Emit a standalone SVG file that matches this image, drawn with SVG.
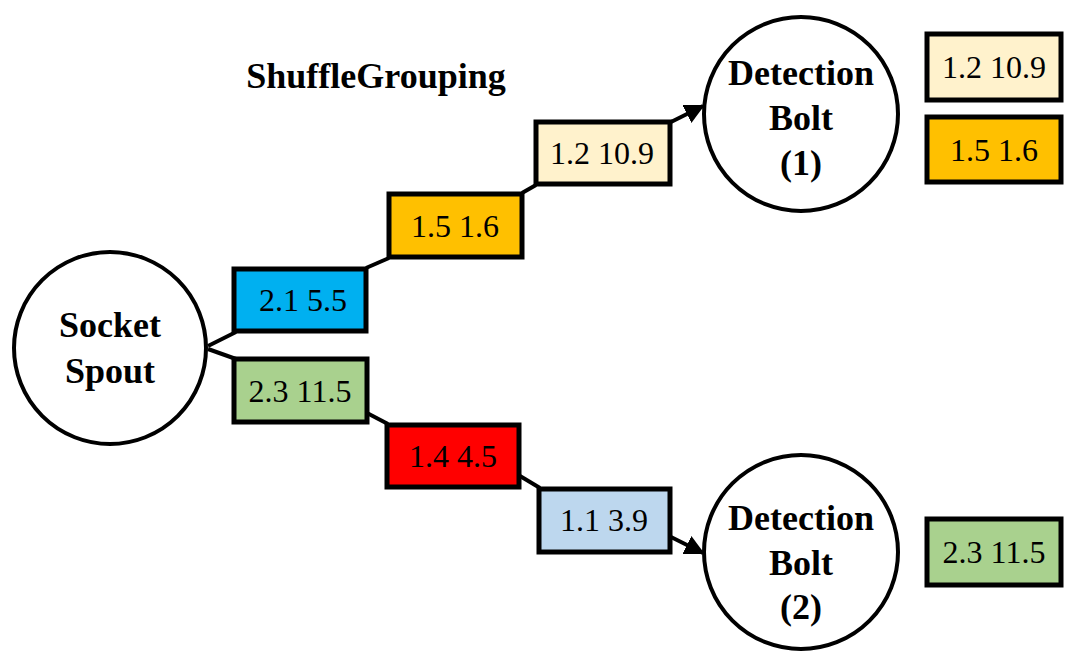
<svg xmlns="http://www.w3.org/2000/svg" width="1071" height="656" viewBox="0 0 1071 656">
<style>
.c{fill:#fff;stroke:#000;stroke-width:4}
.b{stroke:#000;stroke-width:5}
.t{font-family:'Liberation Serif','Times New Roman',serif;font-size:32px;fill:#000;text-anchor:middle}
.h{font-family:'Liberation Serif','Times New Roman',serif;font-size:36px;font-weight:bold;fill:#000;text-anchor:middle}
.l{stroke:#000;stroke-width:4;fill:none}
</style>
<defs>
<marker id="a" viewBox="0 0 10 10" refX="9" refY="5" markerWidth="5" markerHeight="5" orient="auto" markerUnits="strokeWidth">
<path d="M0,0 L10,5 L0,10 z" fill="#000"/>
</marker>
</defs>
<rect width="1071" height="656" fill="#fff"/>
<text x="376" y="88" class="h">ShuffleGrouping</text>
<g id="connectors">
<line class="l" x1="208" y1="346" x2="236" y2="332"/>
<line class="l" x1="208" y1="349" x2="236" y2="359"/>
<line class="l" x1="366" y1="268" x2="389" y2="258"/>
<line class="l" x1="522" y1="193" x2="536" y2="185"/>
<line class="l" x1="671" y1="122" x2="703" y2="106" marker-end="url(#a)"/>
<line class="l" x1="367" y1="413" x2="388" y2="424"/>
<line class="l" x1="520" y1="476" x2="540" y2="488"/>
<line class="l" x1="671" y1="537" x2="703" y2="553" marker-end="url(#a)"/>
</g>
<g id="socket-spout">
<circle class="c" cx="110" cy="348" r="96"/>
<text x="110" y="337" class="h">Socket</text>
<text x="110" y="383" class="h">Spout</text>
</g>
<g id="detection-bolt-1">
<circle class="c" cx="801" cy="114" r="97"/>
<text x="801" y="85" class="h">Detection</text>
<text x="801" y="130" class="h">Bolt</text>
<text x="801" y="175" class="h">(1)</text>
</g>
<g id="detection-bolt-2">
<circle class="c" cx="801" cy="552" r="97"/>
<text x="801" y="530" class="h">Detection</text>
<text x="801" y="575" class="h">Bolt</text>
<text x="801" y="619" class="h">(2)</text>
</g>
<g id="tuple-2-1"><rect class="b" x="234" y="269" width="132" height="62" fill="#00b0f0"/><text x="303" y="311" class="t">2.1 5.5</text></g>
<g id="tuple-2-3"><rect class="b" x="234" y="359" width="133" height="63" fill="#a9d18e"/><text x="300" y="402" class="t">2.3 11.5</text></g>
<g id="tuple-1-5"><rect class="b" x="389" y="194" width="133" height="63" fill="#ffc000"/><text x="455" y="237" class="t">1.5 1.6</text></g>
<g id="tuple-1-2"><rect class="b" x="536" y="122" width="134" height="62" fill="#fff2cc"/><text x="602" y="164" class="t">1.2 10.9</text></g>
<g id="tuple-1-4"><rect class="b" x="387" y="425" width="132" height="62" fill="#ff0000"/><text x="453" y="467" class="t">1.4 4.5</text></g>
<g id="tuple-1-1"><rect class="b" x="539" y="489" width="131" height="63" fill="#bdd7ee"/><text x="604" y="531" class="t">1.1 3.9</text></g>
<g id="out-1-2"><rect class="b" x="927" y="34" width="134" height="66" fill="#fff2cc"/><text x="994" y="78" class="t">1.2 10.9</text></g>
<g id="out-1-5"><rect class="b" x="927" y="117" width="134" height="65" fill="#ffc000"/><text x="994" y="161" class="t">1.5 1.6</text></g>
<g id="out-2-3"><rect class="b" x="927" y="519" width="134" height="66" fill="#a9d18e"/><text x="994" y="563" class="t">2.3 11.5</text></g>
</svg>
